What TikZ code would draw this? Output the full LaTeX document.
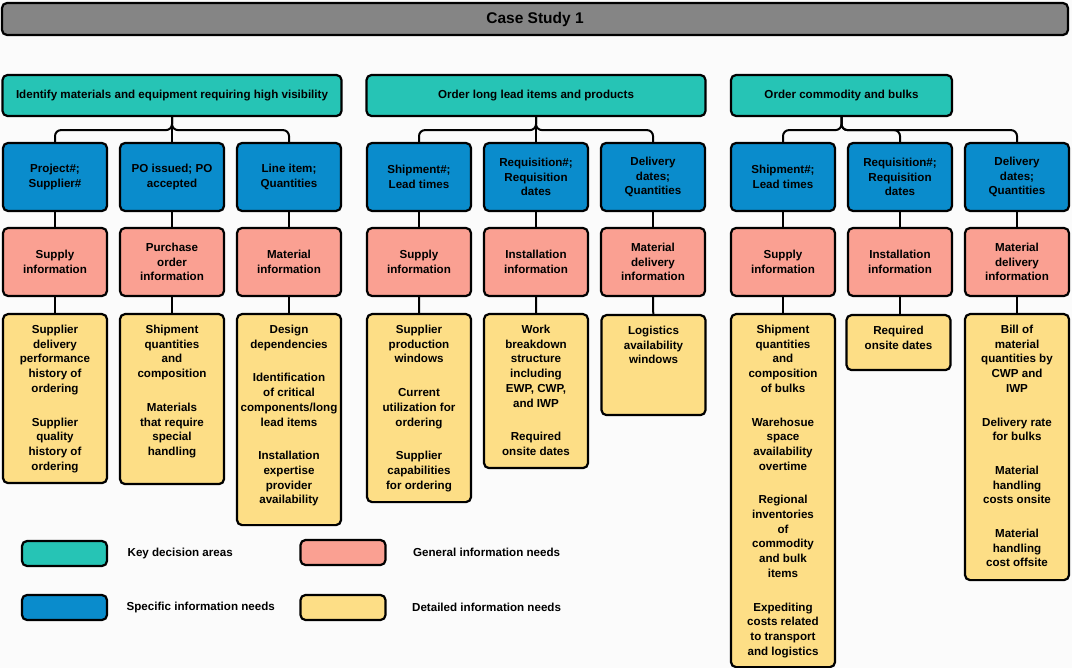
\documentclass[tikz,border=0pt]{standalone}
\usepackage{fontspec}
\setmainfont{Liberation Sans}
\usetikzlibrary{positioning}
\definecolor{keyarea}{RGB}{38,196,181}
\definecolor{specific}{RGB}{10,140,204}
\definecolor{general}{RGB}{250,160,146}
\definecolor{detailed}{RGB}{253,222,134}
\definecolor{banner}{RGB}{133,133,133}
\definecolor{paper}{RGB}{251,251,251}
\newcommand{\topcell}[2]{\parbox[t][#1][t]{100pt}{\centering #2}}
\newcommand{\gap}{\\[19pt]}
\tikzset{
  card/.style={draw=black, line width=2.2pt, rounded corners=5pt, align=center,
    font=\bfseries\fontsize{11.6}{14.7}\selectfont},
  keybox/.style={card, fill=keyarea, minimum height=41pt},
  specbox/.style={card, fill=specific, minimum width=104pt, minimum height=68pt},
  genbox/.style={card, fill=general, minimum width=104pt, minimum height=68pt},
  detbox/.style={card, fill=detailed, anchor=north, minimum width=104pt, inner xsep=2pt, inner ysep=11pt},
  legbox/.style={draw=black, line width=2.2pt, rounded corners=5pt, minimum width=85pt, minimum height=25pt},
  legtext/.style={font=\bfseries\fontsize{11.6}{14.7}\selectfont},
  link/.style={draw=black, line width=2pt},
}

\begin{document}
\begin{tikzpicture}[x=1pt,y=-1pt]
      \useasboundingbox[fill=paper] (0,0) rectangle (1072,668);
      \node[card, fill=banner, minimum width=1066pt, minimum height=32pt,
        font=\bfseries\fontsize{15.5}{18}\selectfont] (CS) at (535,19) {Case Study 1};

      \node[keybox, minimum width=339pt] (T1) at (172,95.5) {Identify materials and equipment requiring high visibility};
      \node[keybox, minimum width=339pt] (T2) at (536,95.5) {Order long lead items and products};
      \node[keybox, minimum width=221pt] (T3) at (841.5,95.5) {Order commodity and bulks};

      \node[specbox] (B1) at (55,177)  {Project\#;\\Supplier\#};
      \node[specbox] (B2) at (172,177) {PO issued; PO\\accepted};
      \node[specbox] (B3) at (289,177) {Line item;\\Quantities};
      \node[specbox] (B4) at (419,177) {Shipment\#;\\Lead times};
      \node[specbox] (B5) at (536,177) {Requisition\#;\\Requisition\\dates};
      \node[specbox] (B6) at (653,177) {Delivery\\dates;\\Quantities};
      \node[specbox] (B7) at (783,177) {Shipment\#;\\Lead times};
      \node[specbox] (B8) at (900,177) {Requisition\#;\\Requisition\\dates};
      \node[specbox] (B9) at (1017,177) {Delivery\\dates;\\Quantities};

      \node[genbox] (P1) at (55,262)  {Supply\\information};
      \node[genbox] (P2) at (172,262) {Purchase\\order\\information};
      \node[genbox] (P3) at (289,262) {Material\\information};
      \node[genbox] (P4) at (419,262) {Supply\\information};
      \node[genbox] (P5) at (536,262) {Installation\\information};
      \node[genbox] (P6) at (653,262) {Material\\delivery\\information};
      \node[genbox] (P7) at (783,262) {Supply\\information};
      \node[genbox] (P8) at (900,262) {Installation\\information};
      \node[genbox] (P9) at (1017,262) {Material\\delivery\\information};

      \node[detbox] (Y1) at (55,313) {\topcell{147pt}{Supplier\\delivery\\performance\\history of\\ordering\gap
        Supplier\\quality\\history of\\ordering}};
      \node[detbox] (Y2) at (172,313) {\topcell{148pt}{Shipment\\quantities\\and\\composition\gap
        Materials\\that require\\special\\handling}};
      \node[detbox] (Y3) at (289,313) {\topcell{189pt}{Design\\dependencies\gap
        Identification\\of critical\\components/long\\lead items\gap
        Installation\\expertise\\provider\\availability}};
      \node[detbox] (Y4) at (419,313) {\topcell{166pt}{Supplier\\production\\windows\gap
        Current\\utilization for\\ordering\gap
        Supplier\\capabilities\\for ordering}};
      \node[detbox] (Y5) at (536,313) {\topcell{132pt}{Work\\breakdown\\structure\\including\\EWP, CWP,\\and IWP\gap
        Required\\onsite dates}};
      \node[detbox, minimum width=100pt] (Y6) at (653.5,314) {\topcell{78pt}{Logistics\\availability\\windows}};
      \node[detbox] (Y7) at (783,313) {\topcell{331pt}{Shipment\\quantities\\and\\composition\\of bulks\gap
        Warehosue\\space\\availability\\overtime\gap
        Regional\\inventories\\of\\commodity\\and bulk\\items\gap
        Expediting\\costs related\\to transport\\and logistics}};
      \node[detbox] (Y8) at (898.5,314) {\topcell{33pt}{Required\\onsite dates}};
      \node[detbox] (Y9) at (1017,313) {\topcell{244pt}{Bill of\\material\\quantities by\\CWP and\\IWP\gap
        Delivery rate\\for bulks\gap
        Material\\handling\\costs onsite\gap
        Material\\handling\\cost offsite}};

      \draw[link, rounded corners=6pt] (T1.south) -- ++(0,13) -| (B1.north);
      \draw[link, rounded corners=6pt] (T1.south) -- ++(0,13) -| (B2.north);
      \draw[link, rounded corners=6pt] (T1.south) -- ++(0,13) -| (B3.north);
      \draw[link, rounded corners=6pt] (T2.south) -- ++(0,13) -| (B4.north);
      \draw[link, rounded corners=6pt] (T2.south) -- ++(0,13) -| (B5.north);
      \draw[link, rounded corners=6pt] (T2.south) -- ++(0,13) -| (B6.north);
      \draw[link, rounded corners=6pt] (T3.south) -- ++(0,13) -| (B7.north);
      \draw[link, rounded corners=6pt] (T3.south) -- ++(0,13) -| (B8.north);
      \draw[link, rounded corners=6pt] (T3.south) -- ++(0,13) -| (B9.north);

      \draw[link] (B1) -- (P1) (B2) -- (P2) (B3) -- (P3);
      \draw[link] (B4) -- (P4) (B5) -- (P5) (B6) -- (P6);
      \draw[link] (B7) -- (P7) (B8) -- (P8) (B9) -- (P9);
      \draw[link] (P1) -- (Y1) (P2) -- (Y2) (P3) -- (Y3);
      \draw[link] (P4) -- (Y4) (P5) -- (Y5) (P6) -- (Y6);
      \draw[link] (P7) -- (Y7) (P8.south) -- (P8.south |- Y8.north) (P9) -- (Y9);

      \node[legbox, fill=keyarea]  (LK) at (64.5,553.5) {};
      \node[legbox, fill=specific] (LS) at (64.5,607.5) {};
      \node[legbox, fill=general]  (LG) at (343,552.5) {};
      \node[legbox, fill=detailed] (LD) at (343,607.5) {};
      \node[legtext, right=16pt of LK] (LK-t) {Key decision areas};
      \node[legtext, right=15pt of LS] (LS-t) {Specific information needs};
      \node[legtext, right=23pt of LG] (LG-t) {General information needs};
      \node[legtext, right=22pt of LD] (LD-t) {Detailed information needs};
    \end{tikzpicture}
\end{document}
